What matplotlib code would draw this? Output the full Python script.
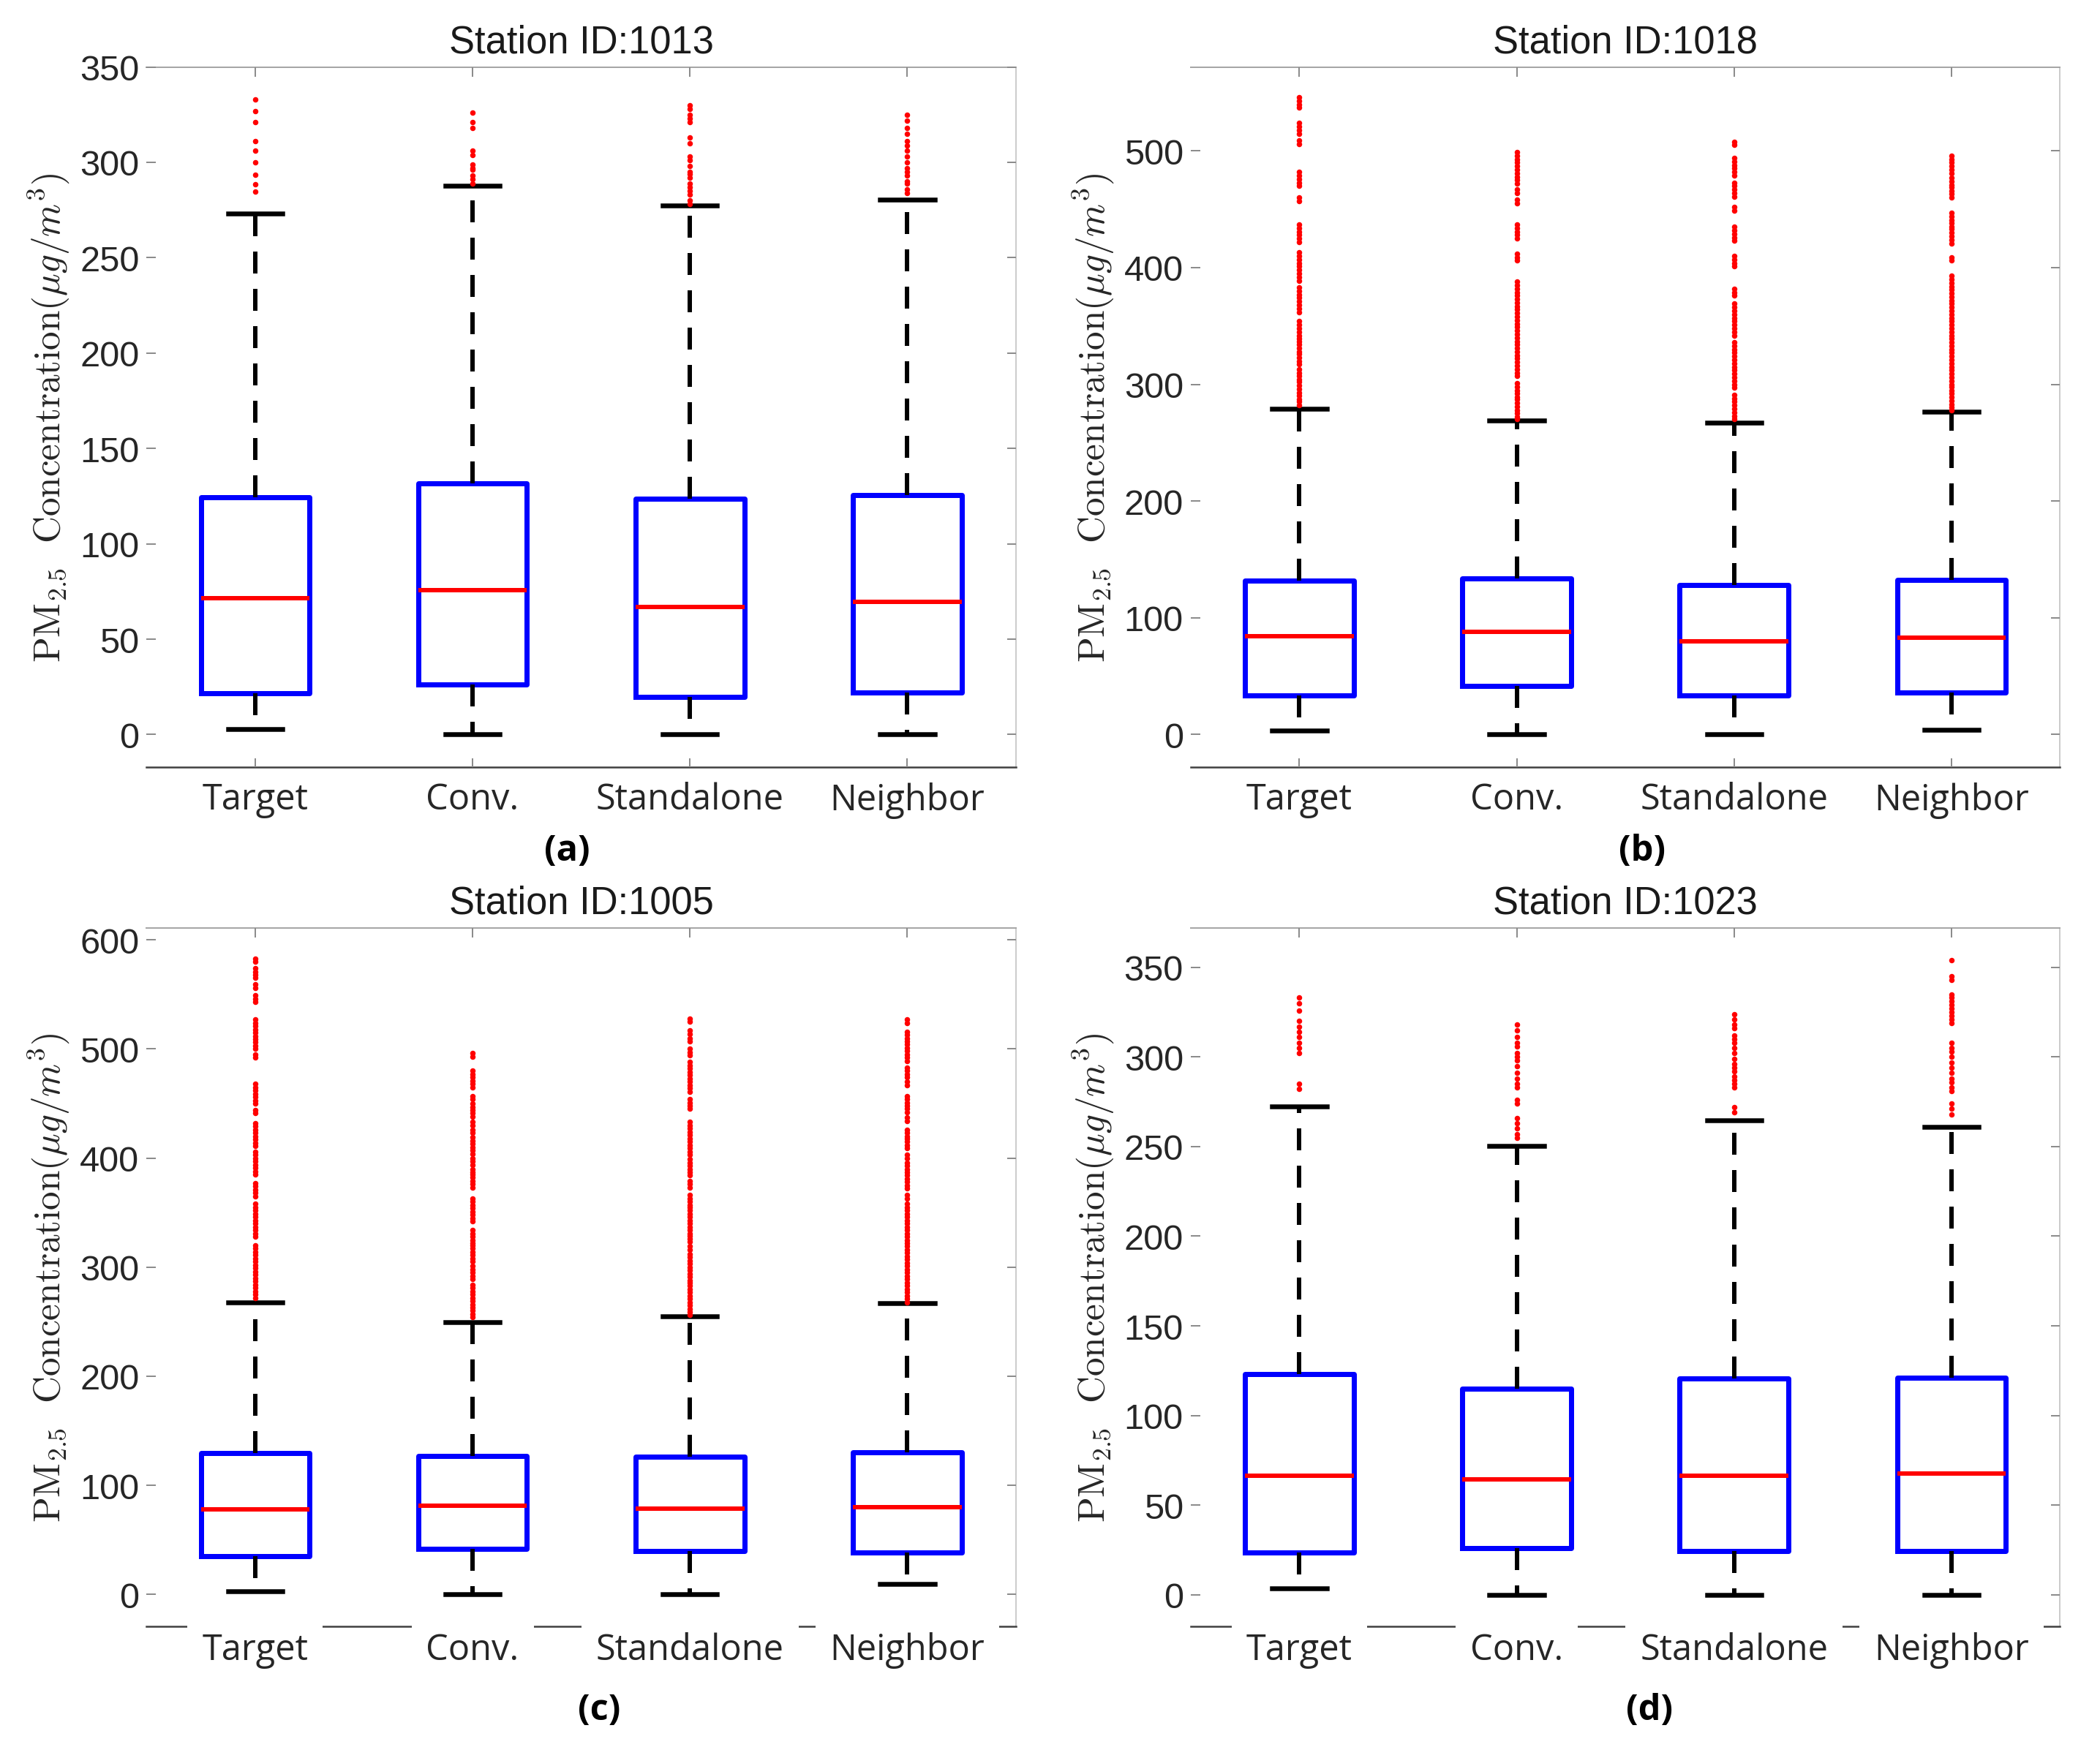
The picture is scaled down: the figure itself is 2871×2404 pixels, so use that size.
import matplotlib
matplotlib.use("Agg")
import matplotlib.pyplot as plt

plt.rcParams["mathtext.fontset"] = "cm"

categories = ["Target", "Conv.", "Standalone", "Neighbor"]
stations = ["1013", "1018", "1005", "1023"]
panel_tags = ["(a)", "(b)", "(c)", "(d)"]

# box statistics, one entry per category (Target, Conv., Standalone, Neighbor)
medians_1013 = [71.5, 75.8, 66.7, 69.6]
q1_1013 = [21.8, 26.3, 19.8, 22.1]
q3_1013 = [124.5, 131.6, 123.6, 125.7]
whislo_1013 = [2.7, 0, 0, 0]
whishi_1013 = [273.3, 287.6, 277.5, 280.3]

medians_1018 = [84.0, 87.6, 80.0, 82.6]
q1_1018 = [33.4, 41.3, 33.1, 36.0]
q3_1018 = [132.0, 133.4, 127.8, 132.6]
whislo_1018 = [3.4, 0, 0, 3.9]
whishi_1018 = [279.0, 268.8, 267.4, 276.7]

medians_1005 = [78.2, 81.6, 78.9, 79.8]
q1_1005 = [35.3, 42.0, 39.9, 38.4]
q3_1005 = [129.3, 126.6, 126.0, 130.5]
whislo_1005 = [3.0, 0, 0, 9.7]
whishi_1005 = [268.0, 249.8, 255.0, 266.8]

medians_1023 = [66.3, 64.4, 66.3, 67.5]
q1_1023 = [23.6, 25.8, 24.2, 24.2]
q3_1023 = [123.2, 115.0, 120.6, 121.0]
whislo_1023 = [3.5, 0, 0, 0]
whishi_1023 = [272.2, 250.3, 264.8, 261.0]

# outliers
fliers_1013 = [
    [333, 327, 321, 311, 306, 300, 293.5, 288.5, 284.5],
    [326, 321, 318, 306, 304, 299, 297, 296, 293, 291, 289],
    [330, 328, 325, 323, 321, 313, 310, 303, 301, 298, 295, 294, 292, 289,
     287, 285, 283, 280, 278],
    [325, 322, 318, 315, 311, 309, 306, 303, 300, 297, 295, 293, 290, 289,
     286, 284],
]

fliers_1018 = [
    [546, 543, 540, 537, 524, 521, 518, 515, 509, 506, 482, 479, 476, 473,
     470, 460, 457, 437, 434, 431, 428, 425, 422, 413, 410, 407, 404, 401,
     398, 395, 392, 389, 383, 380, 377, 374, 371, 368, 365, 362, 354, 351,
     348, 345, 342, 339, 337, 334, 331, 328, 326, 323, 320, 317, 313, 310,
     307, 304, 302, 299, 296, 293, 290, 287, 285, 282],
    [499, 496, 493, 490, 487, 484, 481, 478, 475, 472, 467, 464, 458, 455,
     437, 434, 431, 428, 425, 412, 409, 406, 388, 385, 382, 379, 376, 373,
     370, 367, 364, 361, 358, 355, 352, 349, 346, 343, 340, 337, 334, 331,
     328, 325, 322, 319, 316, 313, 310, 307, 301, 298, 295, 292, 289, 287,
     284, 281, 278, 275, 272, 270],
    [508, 505, 494, 491, 488, 485, 482, 479, 473, 470, 467, 464, 461, 452,
     449, 435, 432, 429, 426, 423, 410, 407, 404, 401, 382, 379, 376, 369,
     366, 363, 360, 357, 354, 351, 348, 345, 342, 336, 333, 330, 327, 324,
     321, 318, 315, 312, 309, 306, 303, 300, 297, 291, 288, 285, 282, 279,
     276, 273, 270],
    [496, 493, 490, 487, 484, 481, 477, 474, 471, 469, 466, 463, 460, 447,
     444, 441, 438, 435, 433, 430, 427, 424, 421, 409, 406, 393, 390, 387,
     384, 381, 378, 375, 372, 369, 366, 363, 360, 357, 354, 351, 348, 345,
     342, 339, 336, 333, 330, 327, 324, 321, 318, 315, 312, 309, 306, 303,
     300, 298, 295, 292, 289, 286, 283, 280, 278],
]

fliers_1005 = [
    [583, 580, 574, 571, 568, 565, 559, 556, 549, 546, 543, 527, 524, 521,
     518, 515, 512, 509, 506, 503, 500, 495, 492, 468, 465, 462, 459, 456,
     453, 450, 444, 441, 432, 429, 426, 423, 420, 417, 414, 411, 406, 403,
     400, 397, 394, 391, 388, 385, 377, 374, 371, 368, 365, 358, 355, 352,
     349, 346, 343, 340, 337, 334, 331, 328, 320, 317, 314, 311, 308, 305,
     302, 299, 296, 293, 290, 287, 284, 281, 278, 275, 272],
    [496, 493, 480, 477, 474, 471, 468, 465, 457, 454, 450, 447, 444, 441,
     438, 433, 430, 426, 423, 419, 416, 413, 410, 407, 404, 400, 397, 394,
     390, 387, 385, 382, 379, 376, 373, 363, 360, 357, 354, 351, 348, 345,
     342, 334, 331, 328, 325, 322, 320, 317, 314, 311, 308, 305, 301, 298,
     295, 292, 289, 284, 281, 278, 275, 272, 269, 266, 263, 260, 257, 254],
    [528, 525, 517, 514, 510, 507, 500, 497, 494, 488, 485, 482, 479, 476,
     473, 470, 467, 464, 461, 454, 451, 448, 445, 433, 430, 427, 424, 421,
     418, 415, 412, 409, 406, 403, 399, 396, 393, 390, 387, 384, 379, 376,
     373, 366, 363, 360, 357, 355, 352, 349, 346, 343, 340, 337, 334, 331,
     329, 326, 323, 319, 316, 312, 309, 306, 303, 300, 297, 294, 291, 288,
     286, 283, 280, 277, 274, 271, 268, 265, 262, 259, 256],
    [527, 524, 516, 513, 510, 507, 504, 501, 498, 495, 492, 489, 483, 480,
     477, 474, 470, 467, 457, 454, 451, 448, 445, 442, 437, 434, 426, 423,
     420, 418, 415, 412, 409, 403, 400, 396, 393, 390, 387, 384, 381, 378,
     375, 372, 366, 363, 358, 355, 352, 349, 346, 343, 340, 337, 334, 331,
     328, 325, 322, 319, 316, 313, 310, 307, 304, 301, 298, 295, 292, 289,
     286, 283, 280, 277, 274, 271, 268],
]

fliers_1023 = [
    [333, 330, 326, 320, 317, 314, 311, 308, 305, 302, 285, 282],
    [318, 315, 311, 308, 306, 302, 300, 298, 295, 291, 288, 285, 283, 276,
     274, 266, 263, 260, 257, 255],
    [324, 321, 318, 316, 312, 310, 308, 305, 302, 299, 296, 294, 292, 289,
     287, 285, 283, 272, 269],
    [354, 345, 343, 335, 333, 331, 329, 327, 325, 323, 321, 319, 308, 305,
     303, 300, 297, 294, 291, 288, 286, 283, 281, 274, 271, 268],
]

y_ticks = [
    [0, 50, 100, 150, 200, 250, 300, 350],
    [0, 100, 200, 300, 400, 500],
    [0, 100, 200, 300, 400, 500, 600],
    [0, 50, 100, 150, 200, 250, 300, 350],
]

all_stats = [
    (medians_1013, q1_1013, q3_1013, whislo_1013, whishi_1013, fliers_1013),
    (medians_1018, q1_1018, q3_1018, whislo_1018, whishi_1018, fliers_1018),
    (medians_1005, q1_1005, q3_1005, whislo_1005, whishi_1005, fliers_1005),
    (medians_1023, q1_1023, q3_1023, whislo_1023, whishi_1023, fliers_1023),
]

# layout
y_limits = [(-17, 350), (-28, 572), (-29, 611), (-17.5, 372)]
axes_rects = [
    [0.0698, 0.5635, 0.414, 0.398],
    [0.567, 0.5635, 0.414, 0.398],
    [0.0698, 0.075, 0.414, 0.397],
    [0.567, 0.075, 0.414, 0.397],
]
tag_x = [0.484, 0.519, 0.521, 0.528]

fig = plt.figure(figsize=(15.95, 13.361), dpi=180)
positions = [1, 2, 3, 4]

for k in range(4):
    ax = fig.add_axes(axes_rects[k])
    med, q1, q3, lo, hi, fl = all_stats[k]
    stats = []
    for i in range(4):
        stats.append(dict(med=med[i], q1=q1[i], q3=q3[i], whislo=lo[i],
                          whishi=hi[i], fliers=fl[i]))

    ax.bxp(stats, positions=positions, widths=0.5, capwidths=0.25,
           showfliers=True,
           boxprops=dict(color="#0000ff", linewidth=2.8),
           whiskerprops=dict(color="black", linewidth=2.4,
                             linestyle=(0, (5, 3.5))),
           capprops=dict(color="black", linewidth=2.6),
           medianprops=dict(color="#ff0000", linewidth=2.4),
           flierprops=dict(marker="o", markerfacecolor="#ff0000",
                           markeredgecolor="none", markersize=3.0))

    ax.set_xlim(0.5, 4.5)
    ax.set_ylim(*y_limits[k])
    ax.set_yticks(y_ticks[k])
    ax.set_xticks(positions, categories)
    # draw the axis (and its labels) after the spines
    ax.set_axisbelow(False)

    ax.spines["left"].set_visible(False)
    ax.spines["top"].set_color("#a6a6a6")
    ax.spines["right"].set_color("#cccccc")
    ax.spines["bottom"].set_color("#404040")
    ax.spines["bottom"].set_linewidth(1.0)
    for s in ["top", "right"]:
        ax.spines[s].set_linewidth(0.8)

    ax.tick_params(direction="in", length=5, width=0.8, color="#8c8c8c",
                   top=True, right=True, labelcolor="#262626")
    ax.tick_params(axis="y", pad=4)
    for lab in ax.get_yticklabels():
        lab.set_family("Liberation Sans")
        lab.set_fontsize(19.5)
    for lab in ax.get_xticklabels():
        lab.set_family("Open Sans")
        lab.set_fontsize(19.5)

    if k >= 2:
        ax.tick_params(axis="x", pad=3)
        for lab in ax.get_xticklabels():
            lab.set_bbox(dict(facecolor="white", edgecolor="none", pad=8))
    else:
        ax.tick_params(axis="x", pad=8)

    ax.set_title("Station ID:" + stations[k], fontsize=21,
                 family="Liberation Sans", color="#1a1a1a", pad=8)
    ax.set_ylabel(r"$\mathrm{PM}_{2.5}\ \ \mathrm{Concentration}(\mu g/m^3)$",
                  fontsize=20.5, color="#262626", va="center")
    ax.yaxis.set_label_coords(-0.112, 0.5)
    ax.set_xlabel(panel_tags[k], fontsize=19.5, fontweight="bold",
                  family="Open Sans", color="black", va="center")
    ax.xaxis.set_label_coords(tag_x[k], -0.12)

fig.savefig("out.png", dpi=180, facecolor="white")
